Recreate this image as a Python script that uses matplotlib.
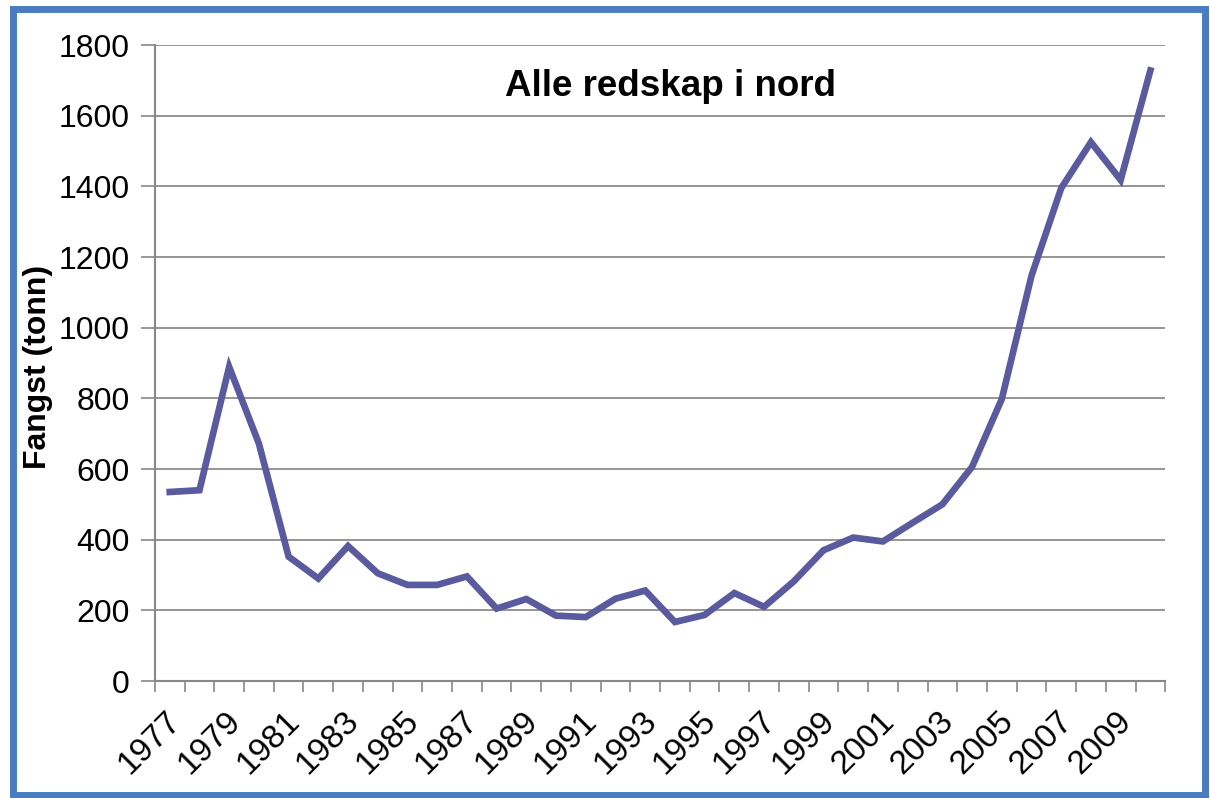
import numpy as np
import matplotlib.pyplot as plt
from matplotlib.patches import Rectangle

plt.rcParams['font.family'] = ['Liberation Sans', 'DejaVu Sans']

# Fangst per aar, alle redskap i nord (tonn)
years = list(range(1977, 2011))
catch = [535, 540, 889, 672, 352, 290, 382, 305, 272, 272,
         296, 205, 232, 185, 181, 233, 256, 167, 187, 249,
         210, 282, 370, 406, 395, 448, 500, 606, 798, 1147,
         1395, 1525, 1418, 1728]
yticks = [0, 200, 400, 600, 800, 1000, 1200, 1400, 1600, 1800]
title = 'Alle redskap i nord'
ylabel = 'Fangst (tonn)'

fig = plt.figure(figsize=(12.1, 7.98), dpi=100)
ax = fig.add_axes([0.128, 0.1466, 0.835, 0.797])

x = np.arange(len(years))
ax.plot(x, catch, color='#5a5a9e', lw=4.8, solid_joinstyle='miter')

ax.set_xlim(-0.5, len(years) - 0.5)
ax.set_ylim(0, 1800)
ax.set_yticks(yticks)
ax.tick_params(axis='y', labelsize=23, length=10, width=1.2, color='#888888', pad=8)
ax.yaxis.grid(True, color='#8c8c8c', lw=1.3)
ax.set_axisbelow(True)

# category ticks between the years, labels on every other year
ax.set_xticks(np.arange(len(years) + 1) - 0.5)
ax.set_xticklabels([])
ax.tick_params(axis='x', length=8, width=1.2, color='#888888')
for i, yr in enumerate(years):
    if i % 2 == 0:
        ax.text(i - 0.15, -70, str(yr), rotation=45, ha='right', va='top',
                rotation_mode='anchor', fontsize=24, clip_on=False)

for s in ['top', 'right']:
    ax.spines[s].set_visible(False)
for s in ['left', 'bottom']:
    ax.spines[s].set_color('#888888')
    ax.spines[s].set_linewidth(1.5)

fig.text(38 / 1210, 1 - 367 / 798, ylabel, rotation=90, ha='center', va='center',
         fontsize=23, fontweight='bold')
ax.text(0.51, 0.962, title, transform=ax.transAxes, ha='center', va='top',
        fontsize=26.5, fontweight='bold')

# blue frame round the chart
fig.patches.append(Rectangle((0.011, 0.004), 0.985, 0.985, transform=fig.transFigure,
                             fill=False, edgecolor='#4a7cc0', lw=5))

plt.savefig('out.png', dpi=100)
